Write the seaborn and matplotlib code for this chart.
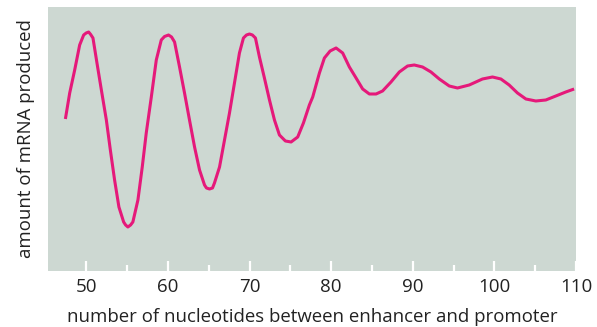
import matplotlib
matplotlib.use("Agg")
import matplotlib.pyplot as plt
import pandas as pd
import seaborn as sns

# values (y is in arbitrary units)
nucleotides = [47.43, 47.96, 48.57, 49.18, 49.67, 49.98, 50.28, 50.53, 50.81, 51.30,
               51.84, 52.45, 52.94, 53.46, 53.99, 54.57, 54.81, 55.09, 55.42, 55.70,
               56.32, 56.85, 57.34, 57.96, 58.57, 59.18, 59.58, 60.07, 60.44, 60.81,
               61.42, 62.03, 62.64, 63.26, 63.87, 64.48, 64.72, 65.09, 65.46, 65.70,
               66.32, 66.93, 67.54, 68.15, 68.76, 69.25, 69.62, 69.99, 70.35, 70.72,
               71.21, 71.82, 72.44, 73.05, 73.66, 74.39, 75.09, 75.90, 76.60, 77.33,
               77.74, 78.56, 79.17, 79.87, 80.60, 81.41, 82.23, 83.05, 83.86, 84.68,
               85.50, 86.30, 87.33, 88.35, 89.36, 90.18, 91.20, 92.23, 93.25, 94.47,
               95.48, 96.92, 98.54, 99.77, 100.80, 101.81, 102.83, 103.86, 105.08, 106.30,
               107.53, 108.75, 109.77]
mrna = [152, 178, 201, 226, 236, 238, 239, 236.5, 233, 208,
        181, 151, 121, 91, 64, 49, 46, 44, 46, 49,
        71, 104, 138, 174, 211, 231, 234.5, 236, 234, 229,
        204, 178, 151, 124, 101, 86, 83, 82, 83, 88,
        104, 131, 158, 188, 218, 233, 236, 237, 236, 233,
        214, 193, 171, 151, 136, 130, 129, 134, 148, 166,
        174, 198, 213, 220, 223, 218, 204, 193, 182, 177,
        177, 180, 189, 199, 205, 206, 204, 199, 192, 185,
        183, 186, 192, 194, 192, 186, 178, 172, 170, 171,
        175, 179, 182]

major_ticks = [50, 60, 70, 80, 90, 100, 110]
minor_ticks = [55, 65, 75, 85, 95, 105]

df = pd.DataFrame({"n": nucleotides, "mrna": mrna})

sns.set_theme(style="white")
plt.rcParams['font.family'] = ['Open Sans', 'DejaVu Sans']

fig = plt.figure(figsize=(5.97, 3.27), dpi=100)
ax = fig.add_axes([0.0804, 0.1713, 0.8844, 0.8073])
ax.set_facecolor('#cdd8d2')

sns.lineplot(data=df, x="n", y="mrna", ax=ax, color='#e5197a', linewidth=2.2,
             sort=False, solid_joinstyle='round', solid_capstyle='butt')

ax.set_xlim(45.3, 110)
ax.set_ylim(0, 264)
sns.despine(ax=ax, left=True, bottom=True, right=True, top=True)

ax.set_xticks(major_ticks)
ax.set_xticks(minor_ticks, minor=True)
ax.set_yticks([])
ax.tick_params(axis='x', which='major', direction='in', length=7.5, width=1.6,
               color='white', labelsize=13.5, pad=5, labelcolor='#222222', bottom=True)
ax.tick_params(axis='x', which='minor', direction='in', length=4.5, width=1.6,
               color='white', bottom=True)

ax.set_xlabel('number of nucleotides between enhancer and promoter',
              fontsize=13.4, color='#222222', labelpad=9)
ax.set_ylabel('amount of mRNA produced', fontsize=13.4, color='#222222', labelpad=9)

fig.savefig('out.png', dpi=100)
